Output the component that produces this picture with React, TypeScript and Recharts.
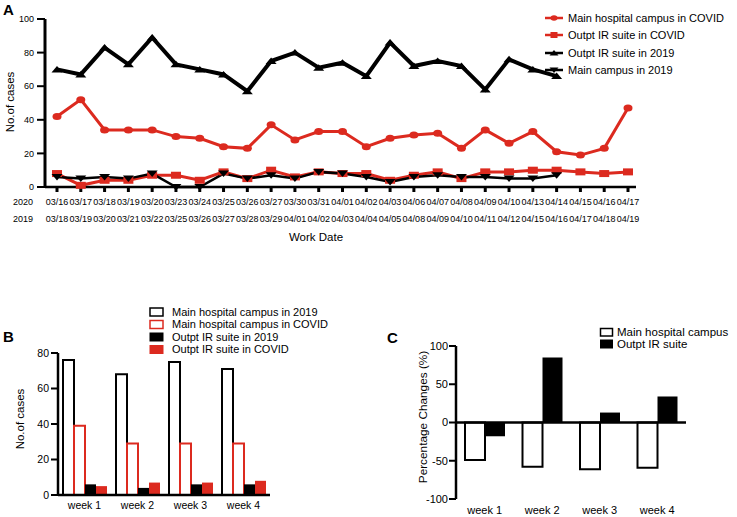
import React from "react";
import { LineChart, Line, BarChart, Bar, XAxis, YAxis, ReferenceLine } from "recharts";

const RED = "#dc2a1f";
const FONT = "Arial, 'Liberation Sans', sans-serif";

// panel A: daily work
const dates2020 = ["03/16", "03/17", "03/18", "03/19", "03/20", "03/23", "03/24", "03/25", "03/26", "03/27", "03/30", "03/31", "04/01", "04/02", "04/03", "04/06", "04/07", "04/08", "04/09", "04/10", "04/13", "04/14", "04/15", "04/16", "04/17"];
const dates2019 = ["03/18", "03/19", "03/20", "03/21", "03/22", "03/25", "03/26", "03/27", "03/28", "03/29", "04/01", "04/02", "04/03", "04/04", "04/05", "04/08", "04/09", "04/10", "04/11", "04/12", "04/15", "04/16", "04/17", "04/18", "04/19"];
const mainCovid = [42, 52, 34, 34, 34, 30, 29, 24, 23, 37, 28, 33, 33, 24, 29, 31, 32, 23, 34, 26, 33, 21, 19, 23, 47];
const outptCovid = [8, 1, 4, 4, 7, 7, 4, 9, 5, 10, 6, 9, 8, 8, 4, 7, 9, 5, 9, 9, 10, 10, 9, 8, 9];
const outpt2019 = [70, 67, 83, 73, 89, 73, 70, 67, 57, 75, 80, 71, 74, 66, 86, 72, 75, 72, 58, 76, 70, 66, null, null, null];
const main2019 = [6, 5, 6, 5, 8, 0, 0, 8, 5, 7, 5, 9, 8, 6, 3, 6, 7, 6, 6, 5, 5, 7, null, null, null];

// panel B: weekly totals
const weeks = ["week 1", "week 2", "week 3", "week 4"];
const weekMain2019 = [76, 68, 75, 71];
const weekMainCovid = [39, 29, 29, 29];
const weekOutpt2019 = [6, 4, 6, 6];
const weekOutptCovid = [5, 7, 7, 8];

// panel C: % change
const changeMain = [-49, -58, -61, -59];
const changeOutpt = [-18, 85, 13, 34];

const dailyData = dates2020.map((d, i) => ({
  d2020: d,
  mainCovid: mainCovid[i],
  outptCovid: outptCovid[i],
  outpt2019: outpt2019[i],
  main2019: main2019[i],
}));

const weekData = weeks.map((w, i) => ({
  week: w,
  main2019: weekMain2019[i],
  mainCovid: weekMainCovid[i],
  outpt2019: weekOutpt2019[i],
  outptCovid: weekOutptCovid[i],
}));

const changeData = weeks.map((w, i) => ({ week: w, main: changeMain[i], outpt: changeOutpt[i] }));

const bad = (v: any) => v == null || Number.isNaN(v);

const circleDot = (p: any) => {
  const { cx, cy, index } = p;
  if (bad(cx) || bad(cy) || p.value == null) return <g key={"c" + index} />;
  return <ellipse key={"c" + index} cx={cx} cy={cy} rx={4.5} ry={3.5} fill={RED} />;
};
const squareDot = (p: any) => {
  const { cx, cy, index } = p;
  if (bad(cx) || bad(cy) || p.value == null) return <g key={"s" + index} />;
  return <rect key={"s" + index} x={cx - 5} y={cy - 3.5} width={10} height={7} fill={RED} />;
};
const upDot = (p: any) => {
  const { cx, cy, index } = p;
  if (bad(cx) || bad(cy) || p.value == null) return <g key={"u" + index} />;
  return <polygon key={"u" + index} points={`${cx - 5.5},${cy + 3} ${cx + 5.5},${cy + 3} ${cx},${cy - 3.5}`} fill="#000" />;
};
const downDot = (p: any) => {
  const { cx, cy, index } = p;
  if (bad(cx) || bad(cy) || p.value == null) return <g key={"v" + index} />;
  return <polygon key={"v" + index} points={`${cx - 5.5},${cy - 3} ${cx + 5.5},${cy - 3} ${cx},${cy + 3.5}`} fill="#000" />;
};

const DateTick = (props: any) => {
  const { x, y, payload } = props;
  const i = payload.index;
  return (
    <g fontFamily={FONT} fontSize={9} fill="#000">
      {i === 0 && (
        <>
          <text x={23} y={y + 11} textAnchor="middle">2020</text>
          <text x={23} y={y + 28} textAnchor="middle">2019</text>
        </>
      )}
      <text x={x} y={y + 11} textAnchor="middle">{dates2020[i]}</text>
      <text x={x} y={y + 28} textAnchor="middle">{dates2019[i]}</text>
    </g>
  );
};

const Title = (props: any) => (
  <text
    x={props.tx}
    y={props.ty}
    transform={props.rot ? `rotate(-90 ${props.tx} ${props.ty})` : undefined}
    textAnchor="middle"
    dominantBaseline="central"
    fontFamily={FONT}
    fontSize={props.size}
    fill="#000"
  >
    {props.text}
  </text>
);

const axisStyle = { stroke: "#000", strokeWidth: 2.5 };

export default function App() {
  return (
    <div style={{ position: "absolute", left: 0, top: 0, width: 737, height: 517, background: "#fff", fontFamily: FONT }}>
      <div style={{ position: "absolute", left: 0, top: 0 }}>
        <LineChart width={737} height={250} data={dailyData} margin={{ top: 19, right: 101, bottom: 6, left: 0 }}>
          <XAxis
            dataKey="d2020"
            interval={0}
            height={57}
            padding={{ left: 12, right: 8 }}
            tick={<DateTick />}
            tickSize={5}
            tickMargin={2}
            axisLine={axisStyle}
            tickLine={{ stroke: "#000", strokeWidth: 3 }}
            label={<Title tx={316} ty={237} size={11.5} text="Work Date" />}
          />
          <YAxis
            width={45}
            domain={[0, 100]}
            ticks={[0, 20, 40, 60, 80, 100]}
            tickSize={8}
            tickMargin={3}
            tick={{ fill: "#000", fontSize: 9, fontFamily: FONT }}
            axisLine={{ stroke: "#000", strokeWidth: 3 }}
            tickLine={{ stroke: "#000", strokeWidth: 2 }}
            label={<Title tx={10} ty={102} size={11.5} rot text="No.of cases" />}
          />
          <Line dataKey="mainCovid" stroke={RED} strokeWidth={3} dot={circleDot} isAnimationActive={false} />
          <Line dataKey="outptCovid" stroke={RED} strokeWidth={3} dot={squareDot} isAnimationActive={false} />
          <Line dataKey="outpt2019" stroke="#000" strokeWidth={4} dot={upDot} isAnimationActive={false} />
          <Line dataKey="main2019" stroke="#000" strokeWidth={2.5} dot={downDot} isAnimationActive={false} />
        </LineChart>
      </div>

      <div style={{ position: "absolute", left: 0, top: 300 }}>
        <BarChart width={290} height={217} data={weekData} margin={{ top: 53, right: 20, bottom: 0, left: 0 }} barCategoryGap={5} barGap={0}>
          <XAxis
            dataKey="week"
            height={22}
            tickSize={0}
            tickMargin={7}
            tickLine={false}
            axisLine={axisStyle}
            tick={{ fill: "#000", fontSize: 10.5, fontFamily: FONT }}
          />
          <YAxis
            width={58}
            domain={[0, 80]}
            ticks={[0, 20, 40, 60, 80]}
            tickSize={7}
            tickMargin={2}
            tick={{ fill: "#000", fontSize: 10.5, fontFamily: FONT }}
            axisLine={axisStyle}
            tickLine={{ stroke: "#000", strokeWidth: 2 }}
            label={<Title tx={20} ty={119} size={11.5} rot text="No.of cases" />}
          />
          <Bar dataKey="main2019" fill="#fff" stroke="#000" strokeWidth={2} isAnimationActive={false} />
          <Bar dataKey="mainCovid" fill="#fff" stroke={RED} strokeWidth={2} isAnimationActive={false} />
          <Bar dataKey="outpt2019" fill="#000" isAnimationActive={false} />
          <Bar dataKey="outptCovid" fill={RED} isAnimationActive={false} />
        </BarChart>
      </div>

      <div style={{ position: "absolute", left: 370, top: 300 }}>
        <BarChart width={367} height={217} data={changeData} margin={{ top: 46, right: 51, bottom: 0, left: 0 }} barCategoryGap={9} barGap={0}>
          <XAxis
            dataKey="week"
            height={18}
            tickSize={0}
            tickMargin={7}
            tickLine={false}
            axisLine={false}
            tick={{ fill: "#000", fontSize: 11, fontFamily: FONT }}
          />
          <YAxis
            width={86}
            domain={[-100, 100]}
            ticks={[-100, -50, 0, 50, 100]}
            tickSize={7}
            tickMargin={1}
            tick={{ fill: "#000", fontSize: 11, fontFamily: FONT }}
            axisLine={axisStyle}
            tickLine={{ stroke: "#000", strokeWidth: 2 }}
            label={<Title tx={53} ty={117} size={11.8} rot text="Percentage Changes (%)" />}
          />
          <Bar dataKey="main" fill="#fff" stroke="#000" strokeWidth={2} isAnimationActive={false} />
          <Bar dataKey="outpt" fill="#000" isAnimationActive={false} />
          <ReferenceLine y={0} stroke="#000" strokeWidth={2.5} />
        </BarChart>
      </div>

      <svg width={737} height={517} style={{ position: "absolute", left: 0, top: 0, pointerEvents: "none" }} fontFamily={FONT} fill="#000">
        <text x={3} y={15} fontSize={15} fontWeight="bold">A</text>
        <text x={3} y={342} fontSize={15} fontWeight="bold">B</text>
        <text x={387} y={343} fontSize={15} fontWeight="bold">C</text>

        {/* legend A */}
        <g fontSize={11}>
          <line x1={545} x2={563} y1={18} y2={18} stroke={RED} strokeWidth={2.5} />
          <ellipse cx={554} cy={18} rx={3.5} ry={2.8} fill={RED} />
          <text x={568} y={22}>Main hospital campus in COVID</text>
          <line x1={545} x2={563} y1={35} y2={35} stroke={RED} strokeWidth={2.5} />
          <rect x={550.5} y={32} width={7} height={6} fill={RED} />
          <text x={568} y={39}>Outpt IR suite in COVID</text>
          <line x1={545} x2={563} y1={53} y2={53} stroke="#000" strokeWidth={2.5} />
          <polygon points="549.5,55.5 558.5,55.5 554,50" fill="#000" />
          <text x={568} y={57}>Outpt IR suite in 2019</text>
          <line x1={545} x2={563} y1={70} y2={70} stroke="#000" strokeWidth={2.5} />
          <polygon points="549.5,67.5 558.5,67.5 554,73" fill="#000" />
          <text x={568} y={74}>Main campus in 2019</text>
        </g>

        {/* legend B */}
        <g fontSize={11}>
          <rect x={150} y={308} width={13} height={8} fill="#fff" stroke="#000" strokeWidth={1.5} />
          <text x={172} y={315.5}>Main hospital campus in 2019</text>
          <rect x={150} y={320.5} width={13} height={8} fill="#fff" stroke={RED} strokeWidth={1.5} />
          <text x={172} y={328}>Main hospital campus in COVID</text>
          <rect x={149.5} y={332.5} width={14} height={9} fill="#000" />
          <text x={172} y={340.5}>Outpt IR suite in 2019</text>
          <rect x={149.5} y={345} width={14} height={9} fill={RED} />
          <text x={172} y={353}>Outpt IR suite in COVID</text>
        </g>

        {/* legend C */}
        <g fontSize={11.5}>
          <rect x={600.5} y={328.5} width={12} height={7.5} fill="#fff" stroke="#000" strokeWidth={1.5} />
          <text x={617} y={336}>Main hospital campus</text>
          <rect x={600} y={339.5} width={13} height={9} fill="#000" />
          <text x={617} y={348}>Outpt IR suite</text>
        </g>
      </svg>
    </div>
  );
}
